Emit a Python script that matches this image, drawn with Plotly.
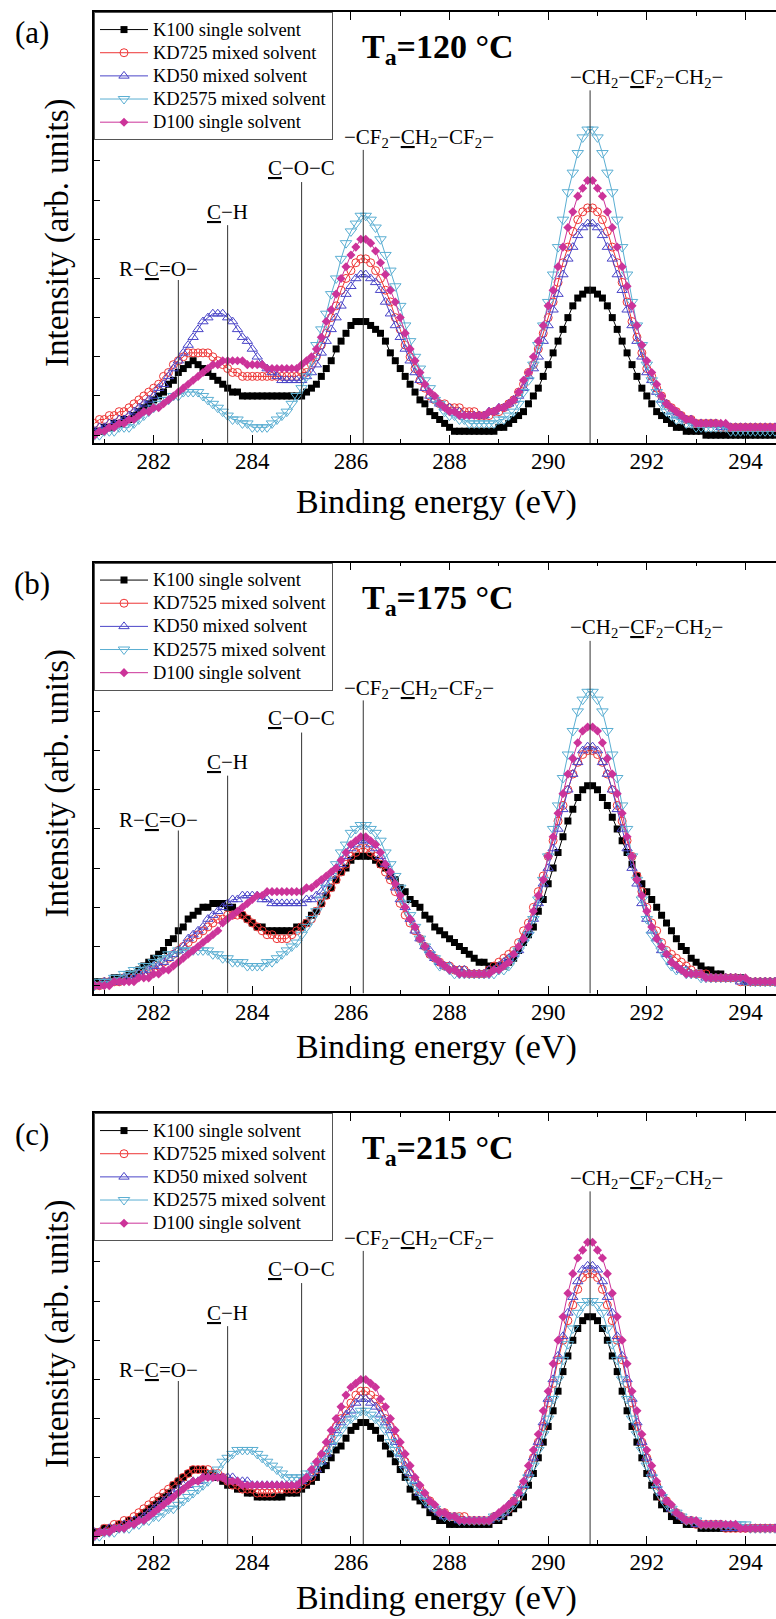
import plotly.graph_objects as go

# ---------------------------------------------------------------------------
# C 1s XPS spectra of films cast from different solvent mixtures,
# annealed at three temperatures. Energy sampled every 0.1 eV.
# ---------------------------------------------------------------------------
energy = [round(280.8 + 0.1 * i, 1) for i in range(139)]

series_names_a = ["K100 single solvent", "KD725 mixed solvent", "KD50 mixed solvent",
                  "KD2575 mixed solvent", "D100 single solvent"]
series_names_bc = ["K100 single solvent", "KD7525 mixed solvent", "KD50 mixed solvent",
                   "KD2575 mixed solvent", "D100 single solvent"]

# ---- (a) Ta = 120 °C -------------------------------------------------------
a_k100 = [1, 1, 2, 2, 3, 3, 4, 4, 5, 6,
          7, 8, 9, 10, 11, 13, 14, 16, 17, 18,
          19, 18, 17, 16, 15, 14, 13, 12, 11, 11,
          10, 10, 10, 10, 10, 10, 10, 10, 10, 10,
          10, 10, 10, 11, 12, 13, 15, 17, 19, 22,
          24, 26, 28, 29, 29, 29, 28, 27, 26, 24,
          21, 19, 17, 15, 13, 11, 9, 8, 6, 5,
          4, 3, 2, 1, 1, 1, 1, 1, 1, 1,
          1, 1, 2, 2, 3, 4, 5, 6, 8, 10,
          12, 15, 18, 21, 24, 27, 30, 33, 35, 36,
          37, 37, 36, 35, 33, 30, 27, 24, 21, 18,
          15, 12, 10, 8, 6, 5, 4, 3, 2, 2,
          1, 1, 1, 1, 0, 0, 0, 0, 0, 0,
          0, 0, 0, 0, 0, 0, 0, 0, 0]
a_kd725 = [3, 4, 4, 5, 5, 6, 6, 7, 8, 9,
           10, 11, 12, 13, 15, 16, 18, 19, 20, 21,
           21, 21, 21, 21, 20, 19, 18, 17, 16, 16,
           15, 15, 15, 15, 15, 15, 15, 15, 15, 15,
           15, 15, 16, 16, 18, 20, 23, 26, 30, 33,
           37, 40, 42, 44, 45, 45, 44, 42, 40, 37,
           34, 30, 27, 23, 20, 17, 14, 12, 10, 9,
           8, 8, 7, 7, 7, 6, 6, 6, 5, 5,
           5, 6, 6, 7, 8, 9, 11, 13, 16, 18,
           22, 26, 30, 34, 39, 44, 48, 52, 55, 57,
           58, 58, 57, 55, 52, 48, 44, 39, 34, 29,
           25, 21, 17, 15, 12, 10, 8, 7, 6, 5,
           4, 4, 3, 3, 3, 3, 3, 2, 2, 2,
           2, 2, 2, 2, 2, 2, 2, 2, 2]
a_kd50 = [1, 2, 2, 3, 3, 4, 4, 5, 6, 7,
          8, 9, 10, 12, 13, 15, 17, 19, 21, 23,
          25, 27, 29, 30, 31, 31, 31, 30, 29, 27,
          25, 24, 22, 20, 18, 17, 16, 15, 14, 14,
          14, 14, 14, 15, 16, 18, 21, 24, 27, 30,
          33, 36, 38, 40, 41, 41, 40, 39, 37, 34,
          31, 28, 25, 22, 19, 16, 14, 12, 10, 9,
          8, 7, 7, 6, 6, 5, 5, 5, 5, 5,
          6, 6, 7, 7, 8, 9, 10, 12, 15, 17,
          20, 24, 28, 32, 36, 41, 45, 48, 51, 53,
          54, 54, 53, 51, 48, 45, 41, 37, 32, 28,
          24, 20, 16, 14, 11, 9, 8, 6, 5, 5,
          4, 4, 3, 3, 3, 3, 3, 2, 2, 2,
          2, 2, 2, 2, 2, 2, 2, 2, 2]
a_kd2575 = [0, 0, 1, 1, 1, 2, 2, 2, 3, 4,
            5, 6, 7, 8, 9, 9, 10, 10, 11, 11,
            11, 11, 10, 9, 8, 7, 6, 5, 4, 4,
            3, 3, 2, 2, 2, 2, 3, 4, 5, 6,
            8, 10, 12, 15, 19, 23, 27, 31, 36, 40,
            45, 49, 52, 54, 56, 56, 55, 53, 50, 46,
            42, 38, 33, 28, 24, 20, 17, 14, 12, 9,
            8, 6, 5, 5, 4, 4, 3, 3, 3, 3,
            3, 3, 4, 4, 5, 6, 8, 11, 14, 18,
            23, 28, 34, 41, 48, 55, 62, 67, 72, 76,
            78, 78, 76, 72, 67, 62, 55, 48, 41, 34,
            28, 23, 18, 14, 11, 8, 6, 5, 4, 4,
            3, 3, 2, 2, 2, 2, 2, 2, 2, 1,
            1, 1, 1, 1, 1, 1, 1, 1, 1]
a_d100 = [0, 1, 1, 2, 2, 3, 3, 4, 4, 5,
          6, 6, 7, 7, 8, 9, 10, 11, 12, 13,
          14, 15, 16, 17, 18, 18, 19, 19, 19, 19,
          19, 18, 18, 18, 18, 17, 17, 17, 17, 17,
          17, 17, 18, 19, 20, 22, 25, 29, 32, 36,
          40, 43, 46, 48, 50, 50, 49, 47, 44, 41,
          37, 34, 30, 26, 22, 19, 16, 13, 11, 10,
          8, 7, 6, 6, 5, 5, 5, 5, 5, 5,
          6, 6, 7, 7, 8, 9, 11, 14, 16, 20,
          24, 28, 33, 37, 43, 48, 53, 57, 61, 63,
          65, 65, 63, 61, 57, 53, 48, 43, 38, 33,
          28, 23, 19, 16, 13, 10, 8, 7, 6, 5,
          4, 4, 3, 3, 3, 3, 3, 3, 3, 2,
          2, 2, 2, 2, 2, 2, 2, 2, 2]

# ---- (b) Ta = 175 °C -------------------------------------------------------
b_k100 = [1, 1, 1, 1, 2, 2, 2, 3, 3, 4,
          5, 6, 7, 8, 9, 11, 12, 14, 15, 17,
          18, 19, 20, 20, 21, 21, 21, 20, 20, 19,
          18, 17, 16, 15, 15, 14, 14, 14, 14, 14,
          14, 15, 15, 16, 18, 19, 21, 23, 25, 27,
          29, 30, 32, 33, 33, 33, 33, 32, 31, 30,
          28, 27, 25, 24, 22, 21, 20, 18, 17, 15,
          14, 13, 12, 11, 10, 9, 8, 7, 6, 6,
          5, 5, 5, 5, 6, 7, 9, 11, 13, 15,
          19, 22, 26, 30, 34, 38, 42, 45, 48, 50,
          51, 51, 50, 48, 46, 43, 40, 37, 34, 31,
          28, 26, 24, 22, 20, 18, 16, 14, 12, 10,
          9, 7, 6, 5, 4, 4, 3, 3, 2, 2,
          2, 2, 1, 1, 1, 1, 1, 1, 1]
b_kd7525 = [0, 0, 1, 1, 1, 1, 2, 2, 2, 3,
            3, 4, 4, 5, 6, 7, 8, 9, 10, 11,
            12, 13, 14, 15, 16, 17, 17, 18, 18, 18,
            18, 17, 16, 15, 14, 13, 13, 12, 12, 12,
            13, 14, 15, 16, 17, 19, 21, 23, 25, 27,
            29, 31, 33, 34, 35, 35, 34, 33, 31, 29,
            27, 24, 21, 18, 16, 14, 12, 10, 8, 7,
            6, 5, 5, 4, 4, 4, 3, 3, 3, 3,
            4, 5, 6, 7, 8, 9, 11, 14, 16, 20,
            24, 28, 33, 37, 42, 46, 50, 54, 57, 59,
            60, 60, 59, 57, 54, 50, 46, 42, 37, 33,
            28, 24, 20, 16, 14, 11, 9, 8, 7, 6,
            5, 4, 3, 3, 3, 2, 2, 2, 2, 2,
            2, 1, 1, 1, 1, 1, 1, 1, 1]
b_kd50 = [0, 0, 1, 1, 1, 1, 2, 2, 2, 3,
          3, 4, 5, 5, 6, 7, 8, 9, 10, 12,
          13, 14, 15, 17, 18, 19, 20, 21, 22, 22,
          23, 23, 23, 23, 22, 22, 21, 21, 21, 21,
          21, 21, 21, 22, 22, 23, 24, 26, 28, 30,
          31, 33, 35, 36, 37, 37, 36, 35, 33, 31,
          28, 25, 22, 20, 17, 14, 12, 10, 9, 7,
          6, 5, 5, 4, 4, 4, 3, 3, 3, 3,
          4, 4, 5, 6, 7, 8, 9, 12, 14, 17,
          21, 26, 30, 35, 40, 45, 50, 54, 57, 60,
          61, 61, 60, 57, 54, 50, 45, 40, 35, 30,
          26, 21, 17, 14, 12, 9, 8, 6, 5, 4,
          4, 3, 3, 3, 2, 2, 2, 2, 2, 2,
          2, 1, 1, 1, 1, 1, 1, 1, 1]
b_kd2575 = [0, 1, 1, 1, 2, 2, 3, 3, 4, 4,
            5, 5, 6, 7, 7, 8, 8, 9, 9, 9,
            9, 9, 9, 9, 8, 8, 7, 7, 6, 6,
            6, 5, 5, 5, 5, 6, 6, 7, 8, 9,
            10, 11, 13, 15, 17, 19, 22, 25, 28, 31,
            34, 36, 39, 40, 41, 41, 40, 39, 37, 34,
            31, 28, 25, 21, 18, 15, 12, 10, 8, 7,
            5, 5, 4, 3, 3, 3, 3, 3, 3, 3,
            3, 3, 4, 4, 5, 7, 9, 11, 13, 17,
            22, 27, 33, 40, 46, 53, 59, 65, 70, 73,
            75, 75, 73, 70, 65, 59, 53, 46, 40, 33,
            27, 22, 17, 13, 11, 9, 7, 5, 4, 4,
            3, 3, 3, 2, 2, 2, 2, 2, 2, 2,
            2, 2, 1, 1, 1, 1, 1, 1, 1]
b_d100 = [0, 0, 0, 0, 1, 1, 1, 1, 1, 2,
          2, 2, 3, 3, 4, 4, 5, 6, 7, 8,
          9, 10, 11, 12, 13, 14, 16, 17, 18, 19,
          20, 21, 22, 23, 23, 24, 24, 24, 24, 24,
          24, 24, 24, 25, 25, 26, 27, 28, 29, 30,
          32, 34, 36, 37, 38, 38, 37, 36, 34, 31,
          29, 26, 23, 20, 17, 15, 12, 10, 8, 7,
          6, 5, 4, 4, 3, 3, 3, 3, 3, 3,
          3, 4, 4, 5, 6, 8, 10, 12, 15, 19,
          23, 27, 33, 38, 44, 49, 54, 58, 62, 65,
          66, 66, 65, 62, 58, 54, 49, 44, 38, 33,
          27, 23, 19, 15, 12, 10, 8, 6, 5, 4,
          3, 3, 3, 3, 2, 2, 2, 2, 2, 2,
          2, 2, 2, 1, 1, 1, 1, 1, 1]

# ---- (c) Ta = 215 °C -------------------------------------------------------
c_k100 = [1, 1, 2, 2, 2, 3, 3, 4, 4, 5,
          6, 7, 8, 9, 10, 11, 13, 14, 15, 16,
          17, 17, 17, 16, 16, 15, 14, 13, 13, 12,
          12, 11, 11, 10, 10, 10, 10, 10, 10, 11,
          11, 11, 12, 13, 14, 15, 17, 18, 20, 22,
          23, 25, 27, 28, 29, 29, 28, 27, 25, 23,
          21, 19, 17, 15, 12, 10, 9, 8, 6, 5,
          4, 4, 3, 3, 3, 3, 3, 3, 3, 3,
          3, 4, 4, 5, 6, 7, 8, 10, 13, 16,
          20, 24, 28, 32, 37, 42, 46, 50, 53, 55,
          56, 56, 55, 53, 50, 46, 42, 37, 32, 28,
          24, 20, 16, 13, 10, 8, 7, 5, 4, 4,
          3, 3, 3, 2, 2, 2, 2, 2, 2, 2,
          2, 2, 2, 2, 2, 2, 2, 2, 2]
c_kd7525 = [1, 1, 2, 2, 3, 3, 4, 4, 5, 6,
            7, 8, 9, 10, 11, 12, 13, 14, 15, 16,
            17, 17, 17, 17, 16, 16, 15, 14, 13, 13,
            12, 12, 12, 11, 11, 11, 11, 12, 12, 12,
            12, 12, 13, 14, 15, 17, 20, 22, 25, 28,
            30, 32, 34, 36, 37, 37, 36, 35, 33, 30,
            28, 25, 22, 19, 16, 14, 12, 10, 9, 7,
            6, 6, 5, 5, 5, 5, 4, 4, 4, 4,
            4, 5, 5, 6, 7, 9, 10, 13, 16, 20,
            24, 28, 34, 39, 45, 50, 55, 59, 63, 66,
            67, 67, 66, 63, 59, 55, 50, 45, 39, 34,
            28, 24, 20, 16, 13, 10, 9, 7, 6, 5,
            4, 4, 3, 3, 3, 3, 3, 3, 2, 2,
            2, 2, 2, 2, 2, 2, 2, 2, 2]
c_kd50 = [1, 1, 1, 2, 2, 2, 3, 3, 4, 4,
          5, 6, 7, 8, 9, 10, 11, 12, 13, 13,
          14, 14, 15, 15, 15, 15, 15, 15, 15, 14,
          14, 14, 13, 13, 13, 13, 13, 13, 13, 13,
          13, 13, 14, 15, 16, 17, 19, 21, 24, 27,
          29, 31, 32, 34, 35, 35, 34, 33, 31, 29,
          27, 24, 21, 18, 16, 14, 11, 10, 8, 7,
          6, 5, 5, 5, 4, 4, 4, 4, 4, 4,
          4, 5, 5, 6, 8, 9, 11, 13, 16, 20,
          24, 29, 35, 40, 46, 51, 57, 61, 65, 68,
          69, 69, 68, 65, 61, 57, 51, 46, 40, 35,
          29, 24, 20, 16, 13, 11, 9, 7, 6, 5,
          4, 4, 3, 3, 3, 3, 3, 3, 2, 2,
          2, 2, 2, 2, 2, 2, 2, 2, 2]
c_kd2575 = [0, 0, 1, 1, 1, 2, 2, 2, 3, 3,
            4, 4, 5, 5, 6, 7, 7, 8, 9, 10,
            11, 12, 13, 14, 16, 17, 19, 20, 21, 22,
            22, 22, 22, 21, 20, 19, 18, 17, 16, 15,
            15, 15, 15, 16, 16, 18, 19, 21, 23, 25,
            27, 29, 30, 31, 32, 32, 31, 30, 29, 27,
            24, 22, 20, 17, 14, 13, 11, 9, 8, 7,
            6, 5, 5, 5, 4, 4, 4, 4, 4, 4,
            4, 5, 5, 6, 7, 8, 10, 12, 15, 18,
            22, 26, 30, 35, 40, 45, 49, 53, 57, 59,
            60, 60, 59, 57, 53, 49, 45, 40, 35, 30,
            26, 22, 18, 15, 12, 10, 8, 7, 6, 5,
            4, 4, 4, 3, 3, 3, 3, 3, 3, 3,
            3, 3, 3, 2, 2, 2, 2, 2, 2]
c_d100 = [0, 1, 1, 1, 2, 2, 2, 3, 3, 4,
          4, 5, 6, 7, 8, 9, 10, 11, 12, 13,
          14, 14, 15, 15, 15, 15, 15, 14, 14, 14,
          13, 13, 13, 13, 13, 13, 13, 13, 13, 13,
          13, 13, 14, 15, 17, 19, 21, 24, 27, 30,
          33, 36, 38, 39, 40, 40, 39, 38, 35, 33,
          30, 27, 24, 21, 18, 15, 13, 11, 9, 8,
          6, 6, 5, 5, 4, 4, 4, 4, 4, 4,
          4, 5, 6, 7, 8, 9, 11, 14, 18, 22,
          26, 32, 37, 44, 50, 56, 62, 67, 71, 73,
          75, 75, 73, 71, 67, 62, 56, 50, 44, 37,
          32, 26, 22, 18, 14, 11, 9, 8, 6, 5,
          4, 4, 4, 3, 3, 3, 3, 3, 3, 3,
          3, 2, 2, 2, 2, 2, 2, 2, 2]

panels = [
    dict(tag="(a)", temp="120", names=series_names_a,
         data=[a_k100, a_kd725, a_kd50, a_kd2575, a_d100]),
    dict(tag="(b)", temp="175", names=series_names_bc,
         data=[b_k100, b_kd7525, b_kd50, b_kd2575, b_d100]),
    dict(tag="(c)", temp="215", names=series_names_bc,
         data=[c_k100, c_kd7525, c_kd50, c_kd2575, c_d100]),
]
for p in panels:
    for s in p["data"]:
        assert len(s) == len(energy)

# Chemical-state assignments: binding energy of the marker line
peak_energy = [282.5, 283.5, 285.0, 286.25, 290.85]
peak_labels = [
    "R−<u>C</u>=O−",
    "<u>C</u>−H",
    "<u>C</u>−O−C",
    "−CF<sub>2</sub>−<u>C</u>H<sub>2</sub>−CF<sub>2</sub>−",
    "−CH<sub>2</sub>−<u>C</u>F<sub>2</sub>−CH<sub>2</sub>−",
]

# ---------------------------------------------------------------------------
# Layout geometry (pixels)
# ---------------------------------------------------------------------------
FIG_W, FIG_H = 776, 1619
PLOT_LEFT = 94
PANEL_TOPS = [12, 562.5, 1113]
PANEL_H = 431
XTITLE_PX = [502, 1047, 1598]
X_RANGE = [280.79, 294.62]
Y_RANGE = [-2, 108]
SERIF = "Liberation Serif"

# line top (intensity), label x, label y, label anchor for each assignment
line_tops = [39.6, 53.6, 64.6, 72.8, 88.0]
label_pos = [
    (282.09, 42.3, "center"),
    (283.49, 57.0, "center"),
    (285.0, 68.2, "center"),
    (285.81, 75.8, "left"),
    (290.40, 91.2, "left"),
]

styles = [
    dict(color="#000000", symbol="square", size=7, lw=0),
    dict(color="#ee3535", symbol="circle-open", size=8, lw=1),
    dict(color="#4a45c8", symbol="triangle-up-open", size=9, lw=1),
    dict(color="#5aaed2", symbol="triangle-down-open", size=10, lw=1),
    dict(color="#cc3399", symbol="diamond", size=7, lw=0),
]

fig = go.Figure()
layout = dict(
    width=FIG_W, height=FIG_H,
    margin=dict(l=0, r=0, t=0, b=0),
    paper_bgcolor="white", plot_bgcolor="white",
    showlegend=True,
    font=dict(family=SERIF, color="black"),
)
annotations = []
shapes = []


def ypaper(px):
    return (FIG_H - px) / FIG_H


for k, p in enumerate(panels):
    sfx = "" if k == 0 else str(k + 1)
    xa, ya = "x" + sfx, "y" + sfx
    top = PANEL_TOPS[k]
    y0, y1 = ypaper(top + PANEL_H), ypaper(top)

    layout["xaxis" + sfx] = dict(
        domain=[PLOT_LEFT / FIG_W, 1], range=X_RANGE, anchor=ya,
        tick0=282, dtick=2, ticks="inside", ticklen=8, tickwidth=1.2, tickcolor="black",
        showline=True, linewidth=1.5, linecolor="black", mirror="ticks",
        showgrid=False, zeroline=False, ticklabelstandoff=-3,
        tickfont=dict(family=SERIF, size=23, color="black"),
        minor=dict(dtick=1, ticks="inside", ticklen=4, tickwidth=1, tickcolor="black",
                   showgrid=False),
    )
    layout["yaxis" + sfx] = dict(
        domain=[y0, y1], range=Y_RANGE, anchor=xa,
        tick0=0, dtick=10, ticks="inside", ticklen=6, tickwidth=1, tickcolor="black",
        showline=True, linewidth=1.5, linecolor="black",
        showticklabels=False, showgrid=False, zeroline=False,
    )
    leg = "legend" + sfx
    layout[leg] = dict(
        x=PLOT_LEFT / FIG_W, y=y1, xanchor="left", yanchor="top",
        bgcolor="white", bordercolor="#555555", borderwidth=1,
        font=dict(family=SERIF, size=15.5, color="black"),
        itemwidth=48, tracegroupgap=0, traceorder="normal",
    )

    for name, vals, st in zip(p["names"], p["data"], styles):
        fig.add_trace(go.Scatter(
            x=energy, y=vals, mode="lines+markers",
            name='<span style="font-size:18.5px">' + name + "</span>",
            xaxis=xa, yaxis=ya, legend=leg,
            line=dict(color=st["color"], width=1),
            marker=dict(symbol=st["symbol"], size=st["size"], color=st["color"],
                        line=dict(color=st["color"], width=st["lw"])),
        ))

    # assignment lines and labels
    for e, ytop, lab, (lx, ly, anc) in zip(peak_energy, line_tops, peak_labels, label_pos):
        shapes.append(dict(type="line", xref=xa, yref=ya, x0=e, x1=e,
                           y0=Y_RANGE[0], y1=ytop, layer="above",
                           line=dict(color="#333333", width=1)))
        annotations.append(dict(xref=xa, yref=ya, x=lx, y=ly, text=lab,
                                xanchor=anc, yanchor="middle", showarrow=False,
                                font=dict(family=SERIF, size=21, color="black")))

    # annealing temperature
    annotations.append(dict(xref=xa, yref=ya, x=287.76, y=98.5,
                            text="<b>T<sub>a</sub>=" + p["temp"] + " °C</b>",
                            xanchor="center", yanchor="middle", showarrow=False,
                            font=dict(family=SERIF, size=34, color="black")))
    # panel tag
    annotations.append(dict(xref="paper", yref="paper", x=32 / FIG_W, y=ypaper(top + 21),
                            text=p["tag"], xanchor="center", yanchor="middle",
                            showarrow=False, font=dict(family=SERIF, size=31, color="black")))
    # axis titles
    annotations.append(dict(xref="paper", yref="paper", x=57 / FIG_W,
                            y=ypaper(top + 221), text="Intensity (arb. units)",
                            textangle=-90, xanchor="center", yanchor="middle",
                            showarrow=False, font=dict(family=SERIF, size=33, color="black")))
    annotations.append(dict(xref="paper", yref="paper", x=436.5 / FIG_W,
                            y=ypaper(XTITLE_PX[k]), text="Binding energy (eV)",
                            xanchor="center", yanchor="middle",
                            showarrow=False, font=dict(family=SERIF, size=34, color="black")))

layout["annotations"] = annotations
layout["shapes"] = shapes
fig.update_layout(**layout)
fig.write_html("out.html")
